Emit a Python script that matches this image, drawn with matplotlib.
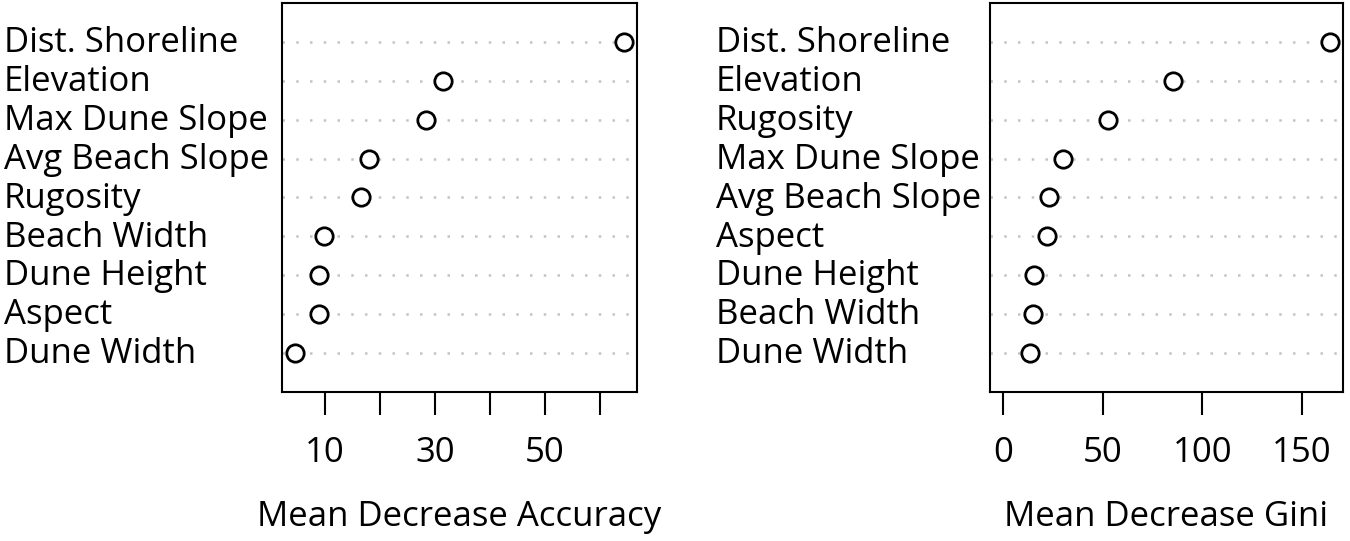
import matplotlib.pyplot as plt
from matplotlib.transforms import blended_transform_factory

# variable importance, listed top to bottom
acc_labels = ["Dist. Shoreline", "Elevation", "Max Dune Slope", "Avg Beach Slope",
              "Rugosity", "Beach Width", "Dune Height", "Aspect", "Dune Width"]
acc_values = [64.4, 31.5, 28.4, 18.0, 16.5, 9.8, 9.0, 9.0, 4.6]

gini_labels = ["Dist. Shoreline", "Elevation", "Rugosity", "Max Dune Slope",
               "Avg Beach Slope", "Aspect", "Dune Height", "Beach Width", "Dune Width"]
gini_values = [164.0, 85.1, 52.7, 30.1, 23.1, 22.1, 15.5, 15.0, 13.5]

acc_ticks = [10, 20, 30, 40, 50, 60]
acc_ticklabels = ["10", "", "30", "", "50", ""]
gini_ticks = [0, 50, 100, 150]
gini_ticklabels = ["0", "50", "100", "150"]

plt.rcParams['font.family'] = ['Open Sans', 'DejaVu Sans']
FS = 25

fig = plt.figure(figsize=(13.5, 5.41), dpi=100)
ax1 = fig.add_axes([282 / 1350, 1 - 392 / 541, 355 / 1350, 389 / 541])
ax2 = fig.add_axes([990 / 1350, 1 - 392 / 541, 353 / 1350, 389 / 541])


def dotchart(ax, labels, values, xmin, ticks, ticklabels, xlabel, label_x):
    n = len(labels)
    ys = list(range(n, 0, -1))
    for y in ys:
        ax.axhline(y, color='#c4c4c4', linestyle=(0, (1, 4.5)), linewidth=1.8, zorder=1)
    ax.plot(values, ys, 'o', markersize=12.5, markerfacecolor='white',
            markeredgecolor='black', markeredgewidth=2.0, zorder=3)
    lo = xmin if xmin is not None else min(values)
    hi = max(values)
    ext = 0.04 * (hi - lo)
    ax.set_xlim(lo - ext, hi + ext)
    ax.set_ylim(0, n + 1)
    ax.set_yticks([])
    ax.set_xticks(ticks)
    ax.set_xticklabels(ticklabels, fontsize=FS)
    ax.tick_params(axis='x', direction='out', length=16.5, width=1.5, pad=15)
    ax.set_xlabel(xlabel, fontsize=FS, labelpad=22)
    for s in ax.spines.values():
        s.set_linewidth(1.5)
    tr = blended_transform_factory(fig.transFigure, ax.transData)
    for lab, y in zip(labels, ys):
        ax.text(label_x / 1350, y - 0.03, lab, transform=tr, ha='left',
                va='center', fontsize=FS)


dotchart(ax1, acc_labels, acc_values, None, acc_ticks, acc_ticklabels,
         "Mean Decrease Accuracy", 4)
dotchart(ax2, gini_labels, gini_values, 0, gini_ticks, gini_ticklabels,
         "Mean Decrease Gini", 716)

fig.savefig("out.png", dpi=100)
